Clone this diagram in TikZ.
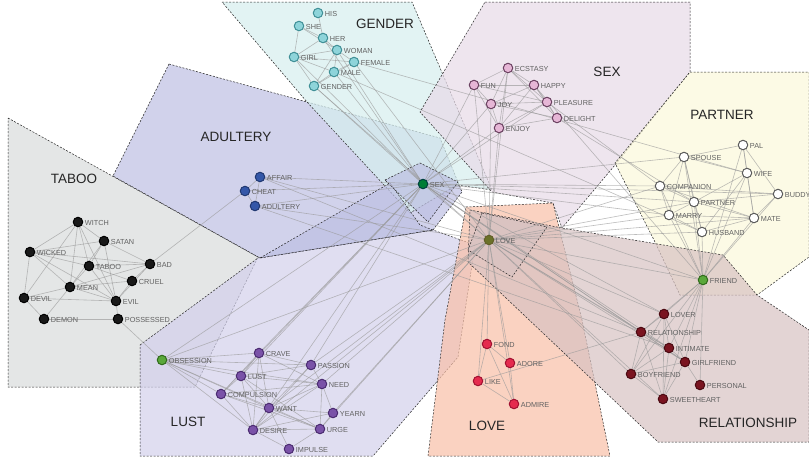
\documentclass[tikz,border=0pt]{standalone}
\usepackage{fontspec}
\setsansfont{Liberation Sans}

% region colours
\definecolor{tabooarea}{HTML}{D9DCDC}
\definecolor{adulteryarea}{HTML}{BEC0E3}
\definecolor{genderarea}{HTML}{D6EFEF}
\definecolor{sexarea}{HTML}{E8DAE8}
\definecolor{partnerarea}{HTML}{FCF9DA}
\definecolor{lustarea}{HTML}{D3D0EC}
\definecolor{lovearea}{HTML}{F9C0A8}
\definecolor{relationarea}{HTML}{D8C2C2}
% node colours
\definecolor{gendernode}{HTML}{8ED4DA}
\definecolor{genderrim}{HTML}{3F8F96}
\definecolor{sexnode}{HTML}{E6B6D6}
\definecolor{sexrim}{HTML}{6A4060}
\definecolor{adulterynode}{HTML}{3457A8}
\definecolor{adulteryrim}{HTML}{203870}
\definecolor{lustnode}{HTML}{7A52A8}
\definecolor{lustrim}{HTML}{4A2A70}
\definecolor{lovenode}{HTML}{E52B4E}
\definecolor{loverim}{HTML}{A01030}
\definecolor{relationnode}{HTML}{7A1420}
\definecolor{relationrim}{HTML}{4A0810}
\definecolor{hubnode}{HTML}{5AA83A}
\definecolor{hubrim}{HTML}{2F6A1A}

\pgfdeclarelayer{regions}
\pgfdeclarelayer{edges}
\pgfsetlayers{regions,edges,main}

\begin{document}
\begin{tikzpicture}[
  x=1pt, y=-1pt,
  font=\sffamily,
  word/.style={circle, draw, line width=1pt, minimum size=9.5pt, inner sep=0pt,
    label={[wordlabel]right:#1}},
  wordlabel/.style={font=\sffamily\fontsize{7.3}{7.3}\selectfont, text=black!62,
    inner sep=1pt, xshift=0.5pt, yshift=-1pt},
  genderw/.style={word=#1, fill=gendernode, draw=genderrim},
  sexw/.style={word=#1, fill=sexnode, draw=sexrim},
  partnerw/.style={word=#1, fill=white, draw=black!65},
  taboow/.style={word=#1, fill=black!90, draw=black},
  adulteryw/.style={word=#1, fill=adulterynode, draw=adulteryrim},
  lustw/.style={word=#1, fill=lustnode, draw=lustrim},
  lovew/.style={word=#1, fill=lovenode, draw=loverim},
  relationw/.style={word=#1, fill=relationnode, draw=relationrim},
  hubw/.style={word=#1, fill=hubnode, draw=hubrim},
  region/.style={fill=#1, fill opacity=0.7, draw=black!85, dash pattern=on 2pt off 1.5pt,
    line width=0.5pt},
  grouplabel/.style={font=\sffamily\fontsize{13.5}{14}\selectfont, text=black!85},
  edge/.style={draw=black!40, line width=0.6pt, opacity=0.65}
]
\useasboundingbox (0,0) rectangle (809,456);

% Regions
\begin{pgfonlayer}{regions}
  \fill[white] (0,0) rectangle (809,456);
  \draw[region=tabooarea] (8,118) -- (258,257) -- (195,387) -- (8,387) -- cycle;
  \draw[region=adulteryarea] (169,64) -- (307,102) -- (440,138) -- (462,192) -- (433,230)
    -- (260,258) -- (113,176) -- cycle;
  \draw[region=genderarea] (222,2) -- (412,2) -- (492,190) -- (457,185) -- (410,213)
    -- (307,102) -- cycle;
  \draw[region=sexarea] (485,2) -- (690,2) -- (690,72) -- (615,165) -- (562,228)
    -- (553,203) -- (492,192) -- (420,112) -- cycle;
  \draw[region=partnerarea] (690,72) -- (809,72) -- (809,257) -- (757,295) -- (680,295)
    -- (655,242) -- (615,163) -- cycle;
  \draw[region=lustarea] (140,345) -- (258,258) -- (433,230) -- (475,245) -- (458,357)
    -- (373,456) -- (140,456) -- cycle;
  \draw[region=lovearea] (466,207) -- (553,203) -- (582,320) -- (610,456) -- (428,456)
    -- (445,320) -- cycle;
  \draw[region=relationarea] (470,210) -- (562,228) -- (723,255) -- (757,295) -- (809,330)
    -- (809,442) -- (658,442) -- (468,262) -- cycle;
  \draw[region=adulteryarea] (260,258) -- (390,183) -- (420,225) -- (433,230) -- cycle;
  \draw[region=adulteryarea] (385,180) -- (420,163) -- (458,182) -- (428,222) -- cycle;
  \draw[region=relationarea] (482,213) -- (547,227) -- (512,277) -- (468,250) -- cycle;
\end{pgfonlayer}

% Group labels
\node[grouplabel] (genderlabel) at (385,24) {GENDER};
\node[grouplabel] (sexlabel) at (607,72) {SEX};
\node[grouplabel] (partnerlabel) at (722,115) {PARTNER};
\node[grouplabel] (adulterylabel) at (236,137) {ADULTERY};
\node[grouplabel] (taboolabel) at (74,179) {TABOO};
\node[grouplabel] (lustlabel) at (188,422) {LUST};
\node[grouplabel] (lovelabel) at (487,426) {LOVE};
\node[grouplabel] (relationlabel) at (748,423) {RELATIONSHIP};

% Gender
\node[genderw=HIS] (his) at (318,13) {};
\node[genderw=SHE] (she) at (299,26) {};
\node[genderw=HER] (her) at (323,38) {};
\node[genderw=WOMAN] (woman) at (337,50) {};
\node[genderw=GIRL] (girl) at (294,57) {};
\node[genderw=FEMALE] (female) at (354,62) {};
\node[genderw=MALE] (male) at (334,72) {};
\node[genderw=GENDER] (gender) at (314,86) {};

% Sex
\node[sexw=ECSTASY] (ecstasy) at (508,68) {};
\node[sexw=FUN] (fun) at (474,85) {};
\node[sexw=HAPPY] (happy) at (534,85) {};
\node[sexw=JOY] (joy) at (491,104) {};
\node[sexw=PLEASURE] (pleasure) at (547,102) {};
\node[sexw=DELIGHT] (delight) at (557,118) {};
\node[sexw=ENJOY] (enjoy) at (499,128) {};

% Partner
\node[partnerw=PAL] (pal) at (743,145) {};
\node[partnerw=SPOUSE] (spouse) at (684,157) {};
\node[partnerw=WIFE] (wife) at (747,173) {};
\node[partnerw=COMPANION] (companion) at (660,186) {};
\node[partnerw=BUDDY] (buddy) at (778,194) {};
\node[partnerw=PARTNER] (partner) at (694,202) {};
\node[partnerw=MARRY] (marry) at (669,215) {};
\node[partnerw=MATE] (mate) at (754,218) {};
\node[partnerw=HUSBAND] (husband) at (702,232) {};

% Taboo
\node[taboow=WITCH] (witch) at (78,222) {};
\node[taboow=SATAN] (satan) at (104,241) {};
\node[taboow=WICKED] (wicked) at (30,252) {};
\node[taboow=TABOO] (taboo) at (89,266) {};
\node[taboow=BAD] (bad) at (150,264) {};
\node[taboow=CRUEL] (cruel) at (132,281) {};
\node[taboow=MEAN] (mean) at (70,287) {};
\node[taboow=DEVIL] (devil) at (24,298) {};
\node[taboow=EVIL] (evil) at (116,301) {};
\node[taboow=DEMON] (demon) at (44,319) {};
\node[taboow=POSSESSED] (possessed) at (118,319) {};

% Adultery
\node[adulteryw=AFFAIR] (affair) at (260,177) {};
\node[adulteryw=CHEAT] (cheat) at (245,191) {};
\node[adulteryw=ADULTERY] (adultery) at (255,206) {};

% Hubs
\node[hubw=SEX, fill=teal!60!green!70!black, draw=teal!50!black] (sex) at (423,184) {};
\node[hubw=LOVE, fill=olive!80!green!70!black, draw=olive!60!black] (love) at (489,240) {};
\node[hubw=FRIEND] (friend) at (703,280) {};
\node[hubw=OBSESSION] (obsession) at (162,360) {};

% Lust
\node[lustw=CRAVE] (crave) at (259,353) {};
\node[lustw=PASSION] (passion) at (311,365) {};
\node[lustw=LUST] (lust) at (241,376) {};
\node[lustw=NEED] (need) at (322,384) {};
\node[lustw=COMPULSION] (compulsion) at (221,394) {};
\node[lustw=WANT] (want) at (269,408) {};
\node[lustw=YEARN] (yearn) at (333,413) {};
\node[lustw=DESIRE] (desire) at (253,430) {};
\node[lustw=URGE] (urge) at (320,429) {};
\node[lustw=IMPULSE] (impulse) at (289,449) {};

% Love
\node[lovew=FOND] (fond) at (487,344) {};
\node[lovew=ADORE] (adore) at (510,363) {};
\node[lovew=LIKE] (like) at (478,381) {};
\node[lovew=ADMIRE] (admire) at (514,404) {};

% Relationship
\node[relationw=LOVER] (lover) at (664,314) {};
\node[relationw=RELATIONSHIP] (relationship) at (641,332) {};
\node[relationw=INTIMATE] (intimate) at (669,348) {};
\node[relationw=GIRLFRIEND] (girlfriend) at (685,362) {};
\node[relationw=BOYFRIEND] (boyfriend) at (631,374) {};
\node[relationw=PERSONAL] (personal) at (700,385) {};
\node[relationw=SWEETHEART] (sweetheart) at (663,399) {};

% Edges
\begin{pgfonlayer}{edges}
\foreach \a/\b in {his/her, she/her, she/girl, she/woman, her/woman, her/girl, woman/girl,
  woman/female, woman/male, woman/gender, girl/female, girl/male, girl/gender, female/male,
  female/gender, male/gender, gender/sex, male/sex, girl/sex, woman/sex, female/love,
  female/wife, male/husband, gender/love, her/sex,
  ecstasy/fun, ecstasy/happy, ecstasy/joy, ecstasy/pleasure, ecstasy/delight, ecstasy/enjoy,
  fun/happy, fun/joy, fun/enjoy, fun/pleasure, happy/joy, happy/pleasure, happy/delight,
  happy/enjoy, joy/pleasure, joy/delight, joy/enjoy, pleasure/delight, pleasure/enjoy,
  enjoy/delight, enjoy/love, joy/love, ecstasy/love, fun/sex, joy/sex, pleasure/sex,
  enjoy/sex, happy/friend, delight/partner, pleasure/companion, fun/love,
  pal/wife, pal/mate, pal/buddy, pal/spouse, spouse/wife, spouse/companion, spouse/partner,
  spouse/marry, spouse/husband, wife/partner, wife/husband, wife/mate, companion/partner,
  companion/marry, companion/buddy, companion/mate, partner/marry, partner/mate,
  partner/buddy, partner/husband, marry/husband, marry/mate, husband/mate, buddy/mate,
  friend/companion, friend/partner, friend/marry, friend/mate, friend/buddy, friend/pal,
  friend/spouse, friend/husband, friend/wife, sex/spouse, sex/companion, sex/partner,
  sex/buddy, love/companion, love/partner, love/marry, love/mate, love/husband, sex/friend,
  love/friend, sex/marry}
  \draw[edge] (\a) -- (\b);
\foreach \a/\b in {witch/wicked, witch/taboo, witch/mean, witch/evil, witch/satan,
  witch/devil, satan/wicked, satan/taboo, satan/evil, satan/mean, satan/bad, wicked/taboo,
  wicked/bad, wicked/mean, wicked/evil, wicked/devil, taboo/bad, taboo/mean, taboo/cruel,
  taboo/evil, bad/mean, bad/cruel, bad/evil, cruel/evil, cruel/mean, mean/devil, mean/evil,
  mean/demon, devil/evil, devil/demon, demon/possessed, evil/possessed, bad/cheat,
  possessed/obsession,
  affair/cheat, cheat/adultery, affair/adultery, affair/sex, adultery/sex, cheat/sex,
  affair/love, adultery/love, affair/relationship, adultery/intimate}
  \draw[edge] (\a) -- (\b);
\foreach \a/\b in {obsession/crave, obsession/passion, obsession/lust, obsession/compulsion,
  obsession/want, obsession/desire, obsession/urge, obsession/need, obsession/sex,
  obsession/love, crave/lust, crave/need, crave/desire, crave/want, crave/passion,
  crave/compulsion, passion/lust, passion/need, passion/desire, passion/want,
  lust/compulsion, lust/need, lust/desire, lust/want, lust/urge, need/want, need/urge,
  need/desire, need/yearn, compulsion/want, compulsion/desire, compulsion/need,
  compulsion/urge, want/yearn, want/desire, want/urge, yearn/desire, yearn/urge,
  desire/urge, desire/impulse, urge/impulse, impulse/want, passion/sex, need/love,
  desire/sex, want/love, yearn/love, crave/sex, urge/love, lust/sex, compulsion/sex,
  desire/love, passion/love,
  love/fond, love/like, love/adore, love/admire, fond/like, fond/admire, fond/adore,
  like/admire, adore/admire, like/relationship,
  lover/friend, lover/relationship, lover/intimate, lover/boyfriend, lover/sweetheart,
  lover/girlfriend, relationship/intimate, relationship/boyfriend, relationship/girlfriend,
  relationship/sweetheart, intimate/girlfriend, intimate/boyfriend, intimate/sweetheart,
  girlfriend/boyfriend, girlfriend/sweetheart, girlfriend/personal, boyfriend/sweetheart,
  friend/relationship, friend/intimate, friend/girlfriend, friend/boyfriend,
  friend/sweetheart, love/lover, love/relationship, love/intimate, love/girlfriend,
  love/boyfriend, love/sweetheart, sex/intimate, sex/relationship, sex/girlfriend,
  sex/lover, personal/friend, sex/love}
  \draw[edge] (\a) -- (\b);
\end{pgfonlayer}

\end{tikzpicture}
\end{document}
